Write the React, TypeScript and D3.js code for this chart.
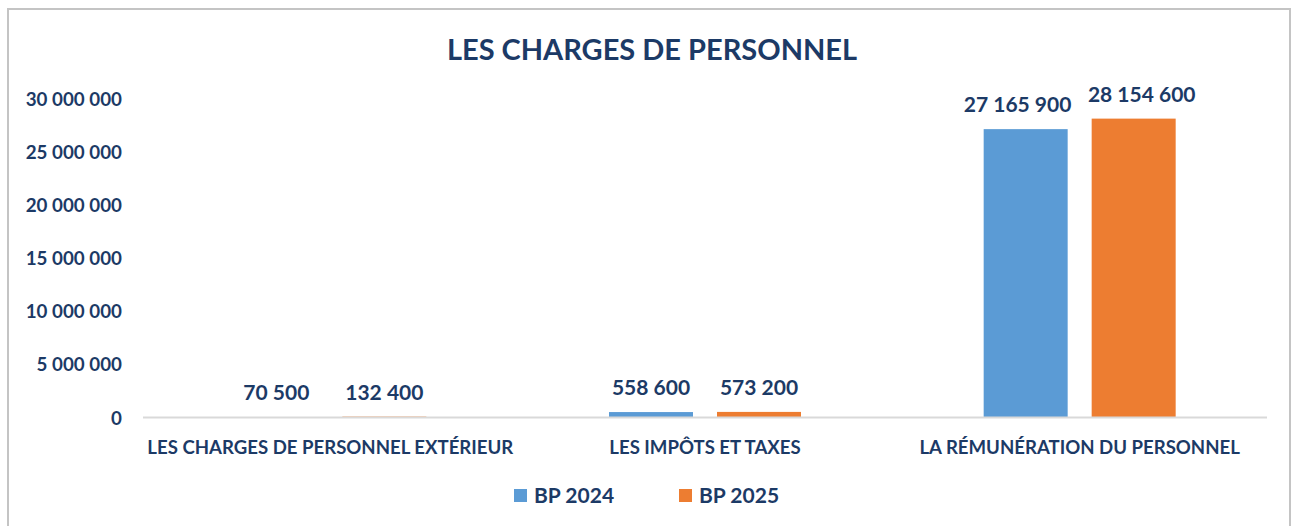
import React from "react";
import * as d3 from "d3";

const categories = [
  "LES CHARGES DE PERSONNEL EXTÉRIEUR",
  "LES IMPÔTS ET TAXES",
  "LA RÉMUNÉRATION DU PERSONNEL",
];
const seriesNames = ["BP 2024", "BP 2025"];
const bp2024 = [70500, 558600, 27165900];
const bp2025 = [132400, 573200, 28154600];
const yTicks = [0, 5000000, 10000000, 15000000, 20000000, 25000000, 30000000];
const colors = ["#5b9bd5", "#ed7d31"];

const W = 1298;
const H = 526;
const TEXT = "#1c3a66";
const FONT = "Lato, 'Open Sans', sans-serif";

const fmt = (v: number) => d3.format(",")(v).replace(/,/g, " ");

export default function App() {
  const plot = { left: 143, right: 1267, top: 99, bottom: 418 };
  const y = d3.scaleLinear().domain([0, 30000000]).range([plot.bottom, plot.top]);
  const x0 = d3.scaleBand().domain(categories).range([plot.left, plot.right]).paddingInner(0).paddingOuter(0);
  const barW = 84;
  const gap = 24;
  const x1 = d3
    .scaleOrdinal<string, number>()
    .domain(seriesNames)
    .range([-(gap / 2 + barW), gap / 2]);
  const series = [bp2024, bp2025];
  const labelSize = 21;
  const spacing = barW + gap;

  return (
    <svg
      width={W}
      height={H}
      style={{ position: "absolute", left: 0, top: 0, background: "#fff" }}
      fontFamily={FONT}
    >
      <rect x={8} y={9} width={1282} height={H} fill="#fff" stroke="#c4c4c4" strokeWidth={2} />
      <text x={652} y={60} textAnchor="middle" fontSize={29} fontWeight={700} fill={TEXT}>
        LES CHARGES DE PERSONNEL
      </text>
      {yTicks.map((t) => (
        <text
          key={t}
          x={122}
          y={y(t)}
          dy="0.35em"
          textAnchor="end"
          fontSize={18.8}
          fontWeight={700}
          fill={TEXT}
        >
          {fmt(t)}
        </text>
      ))}
      {categories.map((c, i) => {
        const cx = (x0(c) as number) + x0.bandwidth() / 2;
        const estW = Math.max(...series.map((s) => fmt(s[i]).length * labelSize * 0.515));
        const push = Math.max(0, (estW + 16 - spacing) / 2);
        return (
          <g key={c}>
            {series.map((s, si) => {
              const bx = cx + (x1(seriesNames[si]) as number);
              const by = y(s[i]);
              const shift = si === 0 ? -push : push;
              return (
                <g key={si}>
                  <rect x={bx} y={by} width={barW} height={plot.bottom - by} fill={colors[si]} />
                  <text
                    x={bx + barW / 2 + shift}
                    y={by - 17}
                    textAnchor="middle"
                    fontSize={labelSize}
                    fontWeight={700}
                    fill={TEXT}
                  >
                    {fmt(s[i])}
                  </text>
                </g>
              );
            })}
            <text x={cx} y={454} textAnchor="middle" fontSize={18.6} fontWeight={700} fill={TEXT}>
              {c}
            </text>
          </g>
        );
      })}
      <line x1={plot.left} x2={plot.right} y1={plot.bottom - 0.5} y2={plot.bottom - 0.5} stroke="#d9d9d9" strokeWidth={2} />
      {seriesNames.map((n, i) => {
        const lx = i === 0 ? 514 : 679;
        return (
          <g key={n}>
            <rect x={lx} y={489} width={13} height={13} fill={colors[i]} />
            <text x={lx + 20} y={503} fontSize={21} fontWeight={700} fill={TEXT}>
              {n}
            </text>
          </g>
        );
      })}
    </svg>
  );
}
